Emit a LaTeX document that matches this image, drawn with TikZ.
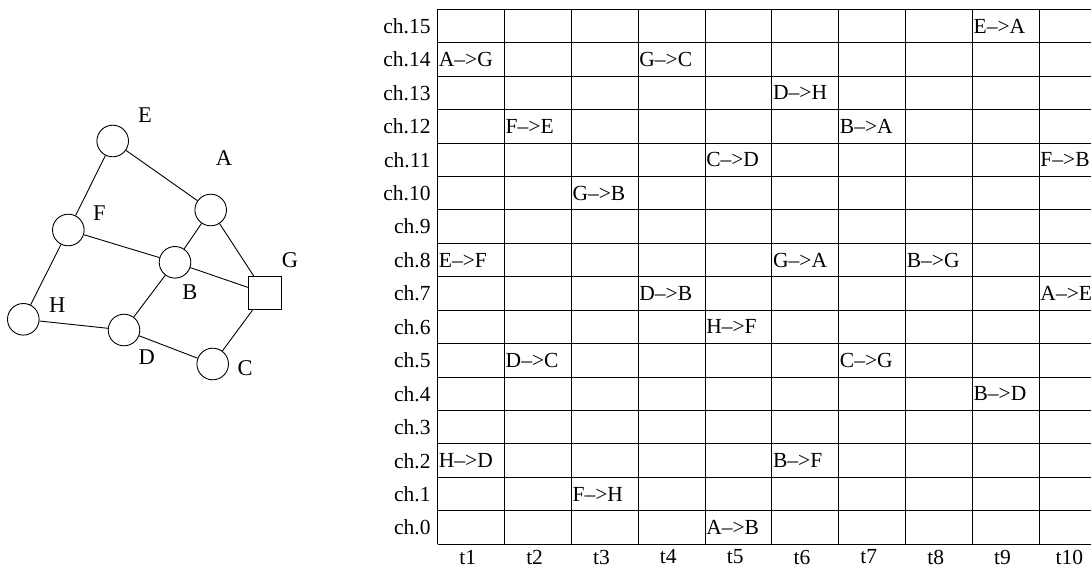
\documentclass[tikz,border=0pt]{standalone}
\usepackage{fontspec}
\setmainfont{Liberation Serif}
\begin{document}
\begin{tikzpicture}[x=1pt, y=1pt,
  station/.style={draw, circle, minimum size=31.6pt, inner sep=0pt, line width=0.9pt},
  gateway/.style={draw, rectangle, minimum size=33pt, inner sep=0pt, line width=0.9pt},
  nodelab/.style={inner sep=0pt, font=\fontsize{22.5}{22.5}\selectfont},
  link/.style={line width=0.9pt},
  entry/.style={anchor=west, inner sep=1pt, font=\fontsize{21.5}{21.5}\selectfont},
  chlab/.style={anchor=east, inner sep=0pt, xshift=-7pt, font=\fontsize{21.5}{21.5}\selectfont},
  tlab/.style={inner sep=0pt, font=\fontsize{21.5}{21.5}\selectfont}]
\useasboundingbox (0,0) rectangle (1091,568);
\clip (0,0) rectangle (1091,568);
% network
\node[station] (E) at (112.7,427) {};
\node[station] (A) at (210.7,358) {};
\node[station] (F) at (68.3,338) {};
\node[station] (B) at (175,305.7) {};
\node[gateway] (G) at (265,274.7) {};
\node[station] (H) at (23.3,248.7) {};
\node[station] (D) at (124,238) {};
\node[station] (C) at (212.7,204) {};
\node[nodelab] (labE) at (145,453) {E};
\node[nodelab] (labA) at (224,410) {A};
\node[nodelab] (labF) at (99.3,354.7) {F};
\node[nodelab] (labB) at (190,276.3) {B};
\node[nodelab] (labG) at (290,308) {G};
\node[nodelab] (labH) at (57.3,263) {H};
\node[nodelab] (labD) at (146.7,211.3) {D};
\node[nodelab] (labC) at (245,199.7) {C};
\draw[link] (E) -- (A);
\draw[link] (E) -- (F);
\draw[link] (F) -- (B);
\draw[link] (F) -- (H);
\draw[link] (A) -- (B);
\draw[link] (A) -- (G);
\draw[link] (B) -- (G);
\draw[link] (B) -- (D);
\draw[link] (H) -- (D);
\draw[link] (D) -- (C);
\draw[link] (C) -- (G);
% schedule: t = column, ch = row
\begin{scope}[xshift=437.7pt, yshift=23.7pt, x=66.84pt, y=33.44pt]
\draw[line width=1pt, step=1] (0,0) grid (10,16);
\foreach \c in {0,...,15}
  \node[chlab] (ch\c) at (0,\c+0.5) {ch.\c};
\foreach \t in {1,...,10}
  \node[tlab] (t\t) at (\t-0.55,-0.38) {t\t};
\node[entry] (s9-15) at (8,15.5) {E\textendash>A};
\node[entry] (s1-14) at (0,14.5) {A\textendash>G};
\node[entry] (s4-14) at (3,14.5) {G\textendash>C};
\node[entry] (s6-13) at (5,13.5) {D\textendash>H};
\node[entry] (s2-12) at (1,12.5) {F\textendash>E};
\node[entry] (s7-12) at (6,12.5) {B\textendash>A};
\node[entry] (s5-11) at (4,11.5) {C\textendash>D};
\node[entry] (s10-11) at (9,11.5) {F\textendash>B};
\node[entry] (s3-10) at (2,10.5) {G\textendash>B};
\node[entry] (s1-8) at (0,8.5) {E\textendash>F};
\node[entry] (s6-8) at (5,8.5) {G\textendash>A};
\node[entry] (s8-8) at (7,8.5) {B\textendash>G};
\node[entry] (s4-7) at (3,7.5) {D\textendash>B};
\node[entry] (s10-7) at (9,7.5) {A\textendash>E};
\node[entry] (s5-6) at (4,6.5) {H\textendash>F};
\node[entry] (s2-5) at (1,5.5) {D\textendash>C};
\node[entry] (s7-5) at (6,5.5) {C\textendash>G};
\node[entry] (s9-4) at (8,4.5) {B\textendash>D};
\node[entry] (s1-2) at (0,2.5) {H\textendash>D};
\node[entry] (s6-2) at (5,2.5) {B\textendash>F};
\node[entry] (s3-1) at (2,1.5) {F\textendash>H};
\node[entry] (s5-0) at (4,0.5) {A\textendash>B};
\end{scope}
\end{tikzpicture}
\end{document}
